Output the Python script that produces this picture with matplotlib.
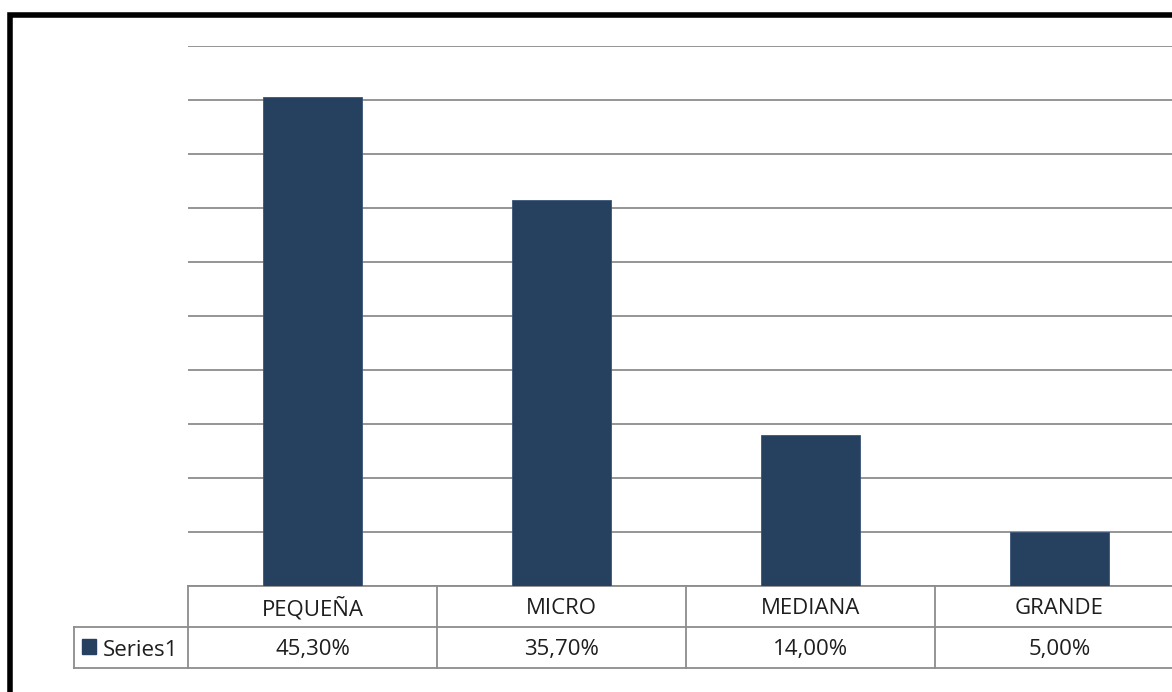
import matplotlib.pyplot as plt
import matplotlib.transforms as mtransforms
from matplotlib.patches import Rectangle

plt.rcParams['font.family'] = ['Open Sans', 'DejaVu Sans']

# datos
categorias = ["PEQUEÑA", "MICRO", "MEDIANA", "GRANDE"]
valores = [45.3, 35.7, 14.0, 5.0]
etiquetas = ["45,30%", "35,70%", "14,00%", "5,00%"]
serie = "Series1"

color_barra = '#264060'
gris = '#8c8c8c'
texto = '#1e1e1e'

fig = plt.figure(figsize=(11.72, 6.92), dpi=100)
ax = fig.add_axes([188/1172, 106/692, 996/1172, 540/692])

x = list(range(len(categorias)))
ax.bar(x, valores, width=0.4, color=color_barra, edgecolor='#3a5578', linewidth=0.6, zorder=3)

ax.set_xlim(-0.5, len(categorias) - 0.5)
ax.set_ylim(0, 50)
ax.set_yticks(range(0, 51, 5))
ax.yaxis.grid(True, color=gris, linewidth=1.3, zorder=0)
ax.tick_params(left=False, bottom=False, labelleft=False, labelbottom=False)
for s in ax.spines.values():
    s.set_visible(False)

# tabla de datos debajo del eje
tr = mtransforms.blended_transform_factory(ax.transData, ax.transAxes)
y0, y1, y2 = 0, -41/540, -82/540
kw = dict(color=gris, linewidth=1.3, clip_on=False, transform=tr)
ax.plot([-0.5, len(categorias) - 0.5], [y0, y0], **kw)
xl = -0.5 - 114/249  # borde izquierdo de la celda "Series1"
ax.plot([xl, len(categorias) - 0.5], [y1, y1], **kw)
ax.plot([xl, len(categorias) - 0.5], [y2, y2], **kw)
ax.plot([xl, xl], [y1, y2], **kw)
for i in range(len(categorias) + 1):
    ax.plot([i - 0.5, i - 0.5], [y0, y2], **kw)

for i, (c, e) in enumerate(zip(categorias, etiquetas)):
    ax.text(i, (y0 + y1) / 2, c, transform=tr, ha='center', va='center_baseline',
            fontsize=16, color=texto)
    ax.text(i, (y1 + y2) / 2, e, transform=tr, ha='center', va='center_baseline',
            fontsize=16, color=texto)

# leyenda en la celda de fila
fig.patches.append(Rectangle((82/1172, 1 - 654/692), 14/1172, 15/692,
                             transform=fig.transFigure, color=color_barra))
fig.text(103/1172, 1 - 648/692, serie, ha='left', va='center_baseline',
         fontsize=16, color=texto)

# marco negro
fig.patches.append(Rectangle((10/1172, -0.2), 1.2, 1.2 - 14.5/692,
                             transform=fig.transFigure, fill=False,
                             edgecolor='black', linewidth=4))

fig.savefig('out.png', dpi=100)
